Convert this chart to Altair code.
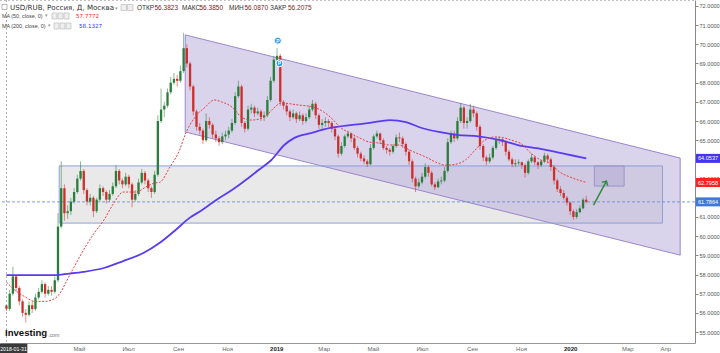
import altair as alt
import pandas as pd

# ---------------- data ----------------
START = "2018-01-31"
STEP_DAYS = 4                      # one candle per 4 calendar days
FIRST_OPEN = 56.38
CLOSE = [
    56.21, 57.0, 57.9, 57.3, 56.6, 56.0, 55.9, 56.4, 56.2, 56.8,
    57.1, 57.5, 57.0, 57.2, 57.1, 57.7, 60.5, 62.5, 61.2, 61.3,
    61.8, 62.3, 63.0, 63.4, 62.4, 61.8, 62.0, 61.3, 61.9, 62.5,
    62.3, 61.9, 62.2, 62.6, 63.4, 62.9, 62.7, 63.1, 62.7, 61.9,
    62.2, 62.8, 63.3, 62.9, 62.5, 62.3, 63.2, 66.0, 66.6, 66.8,
    67.5, 68.0, 68.2, 68.1, 68.6, 69.8, 69.0, 67.8, 66.5, 65.7,
    65.5, 65.0, 66.0, 65.8, 65.3, 65.1, 64.9, 65.2, 65.3, 65.5,
    65.9, 67.3, 67.8, 65.9, 65.6, 66.6, 66.7, 66.4, 66.5, 66.2,
    66.3, 67.1, 68.1, 69.2, 69.4, 67.0, 66.8, 66.5, 66.2, 66.4,
    66.1, 66.3, 66.0, 66.2, 66.6, 66.9, 66.3, 65.8, 65.9, 66.0,
    65.9, 65.6, 65.2, 64.3, 64.7, 65.2, 65.35, 65.1, 64.6, 64.3,
    64.05, 63.9, 63.75, 64.6, 65.2, 65.35, 65.0, 64.6, 64.5, 64.4,
    64.7, 65.15, 65.1, 64.8, 64.4, 63.9, 63.0, 62.6, 62.8, 63.1,
    63.6, 63.3, 62.7, 62.55, 62.85, 62.9, 63.4, 64.9, 65.35, 65.1,
    66.0, 66.7, 65.9, 66.0, 66.6, 66.4, 65.7, 64.7, 64.1, 63.9,
    64.1, 64.6, 65.0, 65.05, 64.9, 64.4, 64.0, 63.75, 63.8, 63.85,
    63.7, 63.3, 63.9, 64.1, 63.85, 63.7, 63.9, 64.2, 64.0, 63.6,
    62.9, 62.45, 62.25, 62.0, 61.75, 61.3, 61.0, 61.25, 61.45, 61.9,
    61.79,
]
HIGH = [
    56.39, 57.2, 58.4, 58.0, 57.4, 56.7, 56.2, 56.6, 56.6, 57.0,
    57.3, 57.7, 57.6, 57.4, 57.4, 57.9, 61.2, 63.9, 62.7, 61.6,
    62.0, 62.5, 63.2, 63.9, 63.5, 62.5, 62.2, 62.1, 62.0, 62.7,
    62.6, 62.4, 62.4, 62.8, 63.7, 63.5, 63.0, 63.3, 63.2, 62.8,
    62.4, 63.0, 63.5, 63.4, 63.0, 62.6, 63.4, 66.3, 67.7, 67.0,
    67.7, 68.3, 68.5, 68.4, 68.9, 70.6, 70.0, 69.1, 67.9, 66.6,
    65.9, 65.6, 66.4, 66.2, 65.9, 65.5, 65.2, 65.4, 65.5, 65.7,
    66.1, 67.5, 68.1, 67.9, 66.0, 66.8, 66.9, 66.8, 66.7, 66.6,
    66.5, 67.3, 68.3, 69.4, 69.8, 69.5, 67.1, 66.9, 66.6, 66.6,
    66.5, 66.5, 66.4, 66.4, 66.8, 67.1, 67.0, 66.4, 66.1, 66.2,
    66.1, 66.0, 65.7, 65.3, 64.9, 65.3, 65.5, 65.4, 65.2, 64.7,
    64.4, 64.2, 64.0, 64.8, 65.3, 65.5, 65.4, 65.1, 64.7, 64.6,
    64.8, 65.3, 65.4, 65.2, 64.9, 64.5, 64.0, 63.1, 63.0, 63.3,
    63.8, 63.7, 63.4, 62.8, 63.0, 63.1, 63.6, 65.1, 65.5, 65.5,
    66.2, 66.95, 66.8, 66.2, 66.9, 66.8, 66.5, 65.8, 64.8, 64.2,
    64.3, 64.7, 65.2, 65.2, 65.1, 65.0, 64.5, 64.1, 64.0, 64.0,
    63.9, 63.8, 64.0, 64.3, 64.2, 63.9, 64.0, 64.35, 64.3, 64.1,
    63.7, 63.0, 62.6, 62.4, 62.1, 61.8, 61.4, 61.4, 61.6, 62.0,
    62.1,
]
LOW = [
    56.09, 56.1, 56.9, 57.1, 56.4, 55.8, 55.5, 55.8, 56.0, 56.1,
    56.7, 57.0, 56.8, 56.9, 56.9, 57.0, 57.6, 60.4, 60.8, 60.9,
    61.1, 61.7, 62.2, 62.9, 62.2, 61.6, 61.6, 61.0, 61.2, 61.8,
    62.1, 61.7, 61.8, 62.1, 62.5, 62.7, 62.5, 62.6, 62.5, 61.5,
    61.8, 62.1, 62.7, 62.7, 62.3, 62.0, 62.2, 63.1, 65.9, 66.2,
    66.7, 67.4, 67.9, 67.8, 68.0, 68.5, 68.8, 67.6, 66.3, 65.5,
    65.3, 64.8, 64.9, 65.6, 65.1, 64.9, 64.7, 64.8, 65.0, 65.1,
    65.4, 65.8, 67.2, 65.7, 65.4, 65.5, 66.4, 66.2, 66.3, 66.0,
    66.0, 66.2, 67.0, 68.0, 69.0, 66.8, 66.6, 66.3, 66.0, 66.1,
    65.9, 66.0, 65.8, 65.9, 66.1, 66.5, 66.1, 65.6, 65.6, 65.7,
    65.7, 65.4, 65.0, 64.1, 64.2, 64.6, 65.1, 64.9, 64.5, 64.1,
    63.9, 63.75, 63.6, 63.7, 64.5, 65.1, 64.8, 64.5, 64.3, 64.2,
    64.3, 64.6, 64.9, 64.6, 64.2, 63.7, 62.8, 62.3, 62.5, 62.7,
    63.0, 63.1, 62.6, 62.4, 62.5, 62.7, 62.8, 63.3, 64.8, 64.9,
    65.0, 65.9, 65.6, 65.6, 65.9, 66.2, 65.5, 64.5, 63.9, 63.7,
    63.8, 64.0, 64.5, 64.8, 64.7, 64.2, 63.9, 63.6, 63.6, 63.7,
    63.5, 63.05, 63.2, 63.8, 63.7, 63.5, 63.6, 63.8, 63.8, 63.4,
    62.7, 62.3, 62.1, 61.9, 61.6, 61.1, 60.85, 60.9, 61.2, 61.4,
    61.7,
]

# moving averages (days since 2018-01-31, value)
MA50_DAY = [0, 10, 23, 35, 47, 59, 66, 74, 80, 88, 96, 108, 121, 133, 145, 161, 173, 184, 190, 203,
            215, 222, 234, 247, 258, 267, 280, 292, 304, 320, 332, 341, 362, 381, 394, 406, 414, 427, 439, 451,
            463, 476, 488, 496, 509, 521, 533, 545, 558, 570, 582, 594, 607, 619, 631, 638, 651, 663, 675, 687,
            700, 720]
MA50_VAL = [57.6, 57.2, 56.84, 56.6, 56.6, 56.72, 57.0, 57.6, 58.08, 58.7, 59.3, 60.1, 60.84, 61.7, 62.3, 62.3, 62.56, 62.77, 62.8, 63.6,
            64.49, 65.3, 66.2, 66.73, 67.1, 67.0, 66.73, 66.2, 66.05, 66.2, 66.68, 66.94, 66.84, 66.73, 66.47, 66.05, 65.69, 65.37, 65.11, 64.9,
            64.85, 64.75, 64.75, 64.59, 64.33, 64.12, 63.86, 63.7, 63.75, 63.97, 64.49, 65.0, 65.17, 65.11, 64.95, 64.85, 64.33, 63.97, 63.8, 63.34,
            63.08, 62.8]
MA200_DAY = [0, 23, 59, 78, 96, 121, 145, 170, 190, 210, 227, 243, 261, 280, 298, 313, 329, 345, 357, 378,
             402, 427, 451, 476, 496, 512, 537, 561, 586, 610, 635, 671, 700, 720]
MA200_VAL = [57.97, 57.97, 57.97, 58.05, 58.14, 58.34, 58.7, 59.12, 59.64, 60.32, 60.94, 61.36, 61.9, 62.4, 62.95, 63.45, 63.97, 64.75, 65.11, 65.37,
             65.64, 65.79, 65.9, 66.05, 65.95, 65.69, 65.43, 65.27, 65.2, 65.03, 64.75, 64.49, 64.23, 64.05]

# drawings
CHANNEL_DAY = [222, 836.6]
CHANNEL_TOP = [70.49, 64.07]
CHANNEL_BOT = [65.43, 59.01]
ZONE_DAY = [65.5, 814.6]
ZONE_PRICE = [60.68, 63.66]
TARGET_DAY = [730, 767]
TARGET_PRICE = [62.61, 63.66]
ARROW_DAY = [729, 745]
ARROW_PRICE = [61.62, 62.87]
PMARK_DAY = [337, 339]
PMARK_PRICE = [70.19, 69.01]
LAST_PRICE = 61.7864
MA50_LAST = 62.7958
MA200_LAST = 64.0537

TICK_DATE = ["2018-05-01", "2018-07-01", "2018-09-01", "2018-11-01", "2019-01-01", "2019-03-01",
             "2019-05-01", "2019-07-01", "2019-09-01", "2019-11-01", "2020-01-01", "2020-03-12", "2020-04-28"]
TICK_LABEL = ["Май", "Июл", "Сен", "Ноя", "2019", "Мар", "Май", "Июл", "Сен", "Ноя", "2020", "Мар", "Апр"]
# 62 and 64 are hidden behind the value flags in the reference
Y_TICKS = [55, 56, 57, 58, 59, 60, 61, 63, 65, 66, 67, 68, 69, 70, 71, 72]

X_DOMAIN = [-1.8, 848.8]
Y_DOMAIN = [54.43, 72.31]

# ---------------- build ----------------
start = pd.Timestamp(START)
n = len(CLOSE)
opens = [FIRST_OPEN] + CLOSE[:-1]
candles = pd.DataFrame({
    "day": [i * STEP_DAYS for i in range(n)],
    "open": opens, "close": CLOSE, "high": HIGH, "low": LOW,
})
candles["dir"] = ["up" if c >= o else "down" for o, c in zip(opens, CLOSE)]

tick_days = [(pd.Timestamp(d) - start).days for d in TICK_DATE]
expr = "''"
for d, lab in reversed(list(zip(tick_days, TICK_LABEL))):
    expr = f"datum.value == {d} ? '{lab}' : ({expr})"
bold_test = " || ".join(f"datum.value == {d}" for d, l in zip(tick_days, TICK_LABEL) if l.isdigit())

XS = alt.Scale(domain=X_DOMAIN, nice=False, zero=False)
YS = alt.Scale(domain=Y_DOMAIN, nice=False, zero=False)
FONT = "Liberation Sans"
GREEN, RED = "#2a7d3a", "#cc2f2b"

XAXIS = alt.Axis(values=tick_days, labelExpr=expr, title=None, grid=False, ticks=False,
                 labelFontSize=6, labelFont=FONT, labelPadding=2,
                 labelColor={"condition": {"test": bold_test, "value": "#222"}, "value": "#666"},
                 labelFontWeight={"condition": {"test": bold_test, "value": "bold"}, "value": "normal"},
                 domainColor="#999", labelOverlap=False)
YAXIS = alt.Axis(orient="right", values=Y_TICKS, format=".4f", title=None, grid=False,
                 labelFontSize=5.6, labelFont=FONT, labelColor="#555", tickColor="#888",
                 tickSize=3, labelPadding=1, domainColor="#888", labelOverlap=False)

ONE = pd.DataFrame({"a": [0]})

def xq(f):
    return alt.X(f, type="quantitative", scale=XS, axis=XAXIS, title=None)

def yq(f):
    return alt.Y(f, type="quantitative", scale=YS, axis=YAXIS, title=None)

zone_df = pd.DataFrame({"d0": [ZONE_DAY[0]], "d1": [ZONE_DAY[1]], "p0": [ZONE_PRICE[0]], "p1": [ZONE_PRICE[1]]})
zone_fill = alt.Chart(zone_df).mark_rect(fill="#e9e9e9").encode(x=xq("d0"), x2="d1", y=yq("p0"), y2="p1")
zone_line = alt.Chart(zone_df).mark_rect(fillOpacity=0, stroke="#8d9fd8", strokeWidth=1).encode(
    x=xq("d0"), x2="d1", y=yq("p0"), y2="p1")

chan_df = pd.DataFrame({"day": CHANNEL_DAY, "top": CHANNEL_TOP, "bot": CHANNEL_BOT})
channel = alt.Chart(chan_df).mark_area(fill="#bcaedd", fillOpacity=0.55, stroke="#9d86cc", strokeWidth=1).encode(
    x=xq("day"), y=yq("top"), y2="bot")

tgt_df = pd.DataFrame({"d0": [TARGET_DAY[0]], "d1": [TARGET_DAY[1]], "p0": [TARGET_PRICE[0]], "p1": [TARGET_PRICE[1]]})
target = alt.Chart(tgt_df).mark_rect(fill="#a49ccb", fillOpacity=0.35, stroke="#9a96c8", strokeWidth=1).encode(
    x=xq("d0"), x2="d1", y=yq("p0"), y2="p1")

hline = alt.Chart(pd.DataFrame({"p": [LAST_PRICE]})).mark_rule(color="#5f84da", strokeWidth=0.8, strokeDash=[3, 2]).encode(
    y=yq("p"))
vline = alt.Chart(pd.DataFrame({"d": [0]})).mark_rule(color="#9a9a9a", strokeWidth=0.8, strokeDash=[2, 2]).encode(
    x=xq("d"))
topline = alt.Chart(ONE).mark_rule(color="#b0b0b0", strokeWidth=0.8, strokeDash=[2, 2]).encode(
    x=alt.value(0), x2=alt.value(695), y=alt.value(0.5))

col = alt.Color("dir:N", scale=alt.Scale(domain=["up", "down"], range=[GREEN, RED]), legend=None)
base = alt.Chart(candles).encode(x=xq("day"))
wick = base.mark_rule(strokeWidth=1, opacity=0.55).encode(y=yq("low"), y2="high", color=col)
body = base.mark_bar(size=2.3).encode(y=yq("open"), y2="close", color=col)

ma200 = alt.Chart(pd.DataFrame({"day": MA200_DAY, "v": MA200_VAL})).mark_line(
    color="#5a3cf0", strokeWidth=1.8, interpolate="monotone").encode(x=xq("day"), y=yq("v"))
ma50 = alt.Chart(pd.DataFrame({"day": MA50_DAY, "v": MA50_VAL})).mark_line(
    color="#ee3b3b", strokeWidth=1, strokeDash=[2, 1.5], interpolate="monotone").encode(x=xq("day"), y=yq("v"))

arrow_df = pd.DataFrame({"day": ARROW_DAY, "p": ARROW_PRICE})
arrow = alt.Chart(arrow_df).mark_line(color="#2e8b3a", strokeWidth=1.5).encode(x=xq("day"), y=yq("p"))
arrow_head = alt.Chart(arrow_df.tail(1)).mark_point(
    shape="M-1,1L0,0L1,1", angle=29, size=45, filled=False, stroke="#2e8b3a", strokeWidth=1.5, opacity=1).encode(
    x=xq("day"), y=yq("p"))

pm_df = pd.DataFrame({"day": PMARK_DAY, "p": PMARK_PRICE})
pm_dot = alt.Chart(pm_df).mark_point(shape="circle", size=48, filled=True, fill="#2196f3", stroke="white",
                                     strokeWidth=1, opacity=1).encode(x=xq("day"), y=yq("p"))
pm_txt = alt.Chart(pm_df).mark_text(text="P", fontSize=5, fontWeight="bold", color="white", font=FONT,
                                    align="center", baseline="middle").encode(x=xq("day"), y=yq("p"))

box_shape = "M-1,-0.375L1,-0.375L1,0.375L-1,0.375Z"
val_df = pd.DataFrame({"p": [MA200_LAST, MA50_LAST, LAST_PRICE],
                       "t": [f"{MA200_LAST:.4f}", f"{MA50_LAST:.4f}", f"{LAST_PRICE:.4f}"],
                       "c": ["#4434f0", "#ff2222", "#3f78d6"]})
val_box = alt.Chart(val_df).mark_point(shape=box_shape, size=576, filled=True, opacity=1).encode(
    x=alt.value(708), y=yq("p"), fill=alt.Color("c:N", scale=None))
val_txt = alt.Chart(val_df).mark_text(fontSize=5.6, color="white", font=FONT, align="center", baseline="middle").encode(
    x=alt.value(708), y=yq("p"), text="t:N")


def txt(s, x, y, size=6, color="#333", weight="normal", align="left", font=FONT):
    return alt.Chart(ONE).mark_text(text=s, fontSize=size, color=color, fontWeight=weight, align=align,
                                    baseline="middle", font=font).encode(x=alt.value(x), y=alt.value(y))


def box(x0, y0, x1, y1, fill="#eeeeee", stroke="#bbbbbb"):
    return alt.Chart(ONE).mark_rect(fill=fill, stroke=stroke, strokeWidth=0.7).encode(
        x=alt.value(x0), x2=alt.value(x1), y=alt.value(y0), y2=alt.value(y1))


DV = "DejaVu Sans"
VC = "#7a1c1c"
header = [
    box(2, 4.5, 7, 9.5, fill="white", stroke="#999"),
    txt("USD/RUB, Россия, Д, Москва", 10, 7.5, size=7.1, color="#333", font=DV),
    txt("▾", 115, 7.5, size=5, color="#999"),
    box(121, 4.5, 126.5, 10.5), box(127.5, 4.5, 133, 10.5),
    txt("ОТКР", 137, 7.5, size=6.5), txt("56.3823", 154.5, 7.5, size=6.5, color=VC),
    txt("МАКС", 182, 7.5, size=6.5), txt("56.3850", 199.5, 7.5, size=6.5, color=VC),
    txt("МИН", 229, 7.5, size=6.5), txt("56.0870", 244.5, 7.5, size=6.5, color=VC),
    txt("ЗАКР", 270, 7.5, size=6.5), txt("56.2075", 288, 7.5, size=6.5, color=VC),
    txt("MA (50, close, 0)", 2, 16, size=5.4, color="#444"),
    txt("▾", 45, 16, size=4.5, color="#999"),
    box(52, 13, 57, 19), box(58, 13, 63, 19), box(64, 13, 69, 19),
    txt("57.7772", 76, 16, size=5.6, color="#ff2020", font=DV),
    txt("MA (200, close, 0)", 2, 26, size=5.4, color="#444"),
    txt("▾", 48, 26, size=4.5, color="#999"),
    box(54, 23, 59, 29), box(60, 23, 65, 29), box(66, 23, 71, 29),
    txt("58.1327", 79, 26, size=5.6, color="#3030ff", font=DV),
    txt("Investing", 5, 333, size=9.6, color="#111", weight="bold"),
    txt(".com", 48, 335, size=5.3, color="#777"),
    box(0, 344, 27, 353, fill="#3a3a3a", stroke="#3a3a3a"),
    txt("2018-01-31", 13.5, 348.5, size=5.2, color="white", align="center"),
]

layers = [zone_fill, channel, zone_line, hline, vline, topline, wick, body, ma200, ma50,
          target, arrow, arrow_head, pm_dot, pm_txt, val_box, val_txt] + header

chart = alt.layer(*layers).properties(
    width=695, height=343, autosize="none", background="white",
    padding={"left": 0, "top": 0, "right": 25, "bottom": 10},
).configure_view(stroke=None)

chart.save("out.html", embed_options={"renderer": "svg", "actions": False})
